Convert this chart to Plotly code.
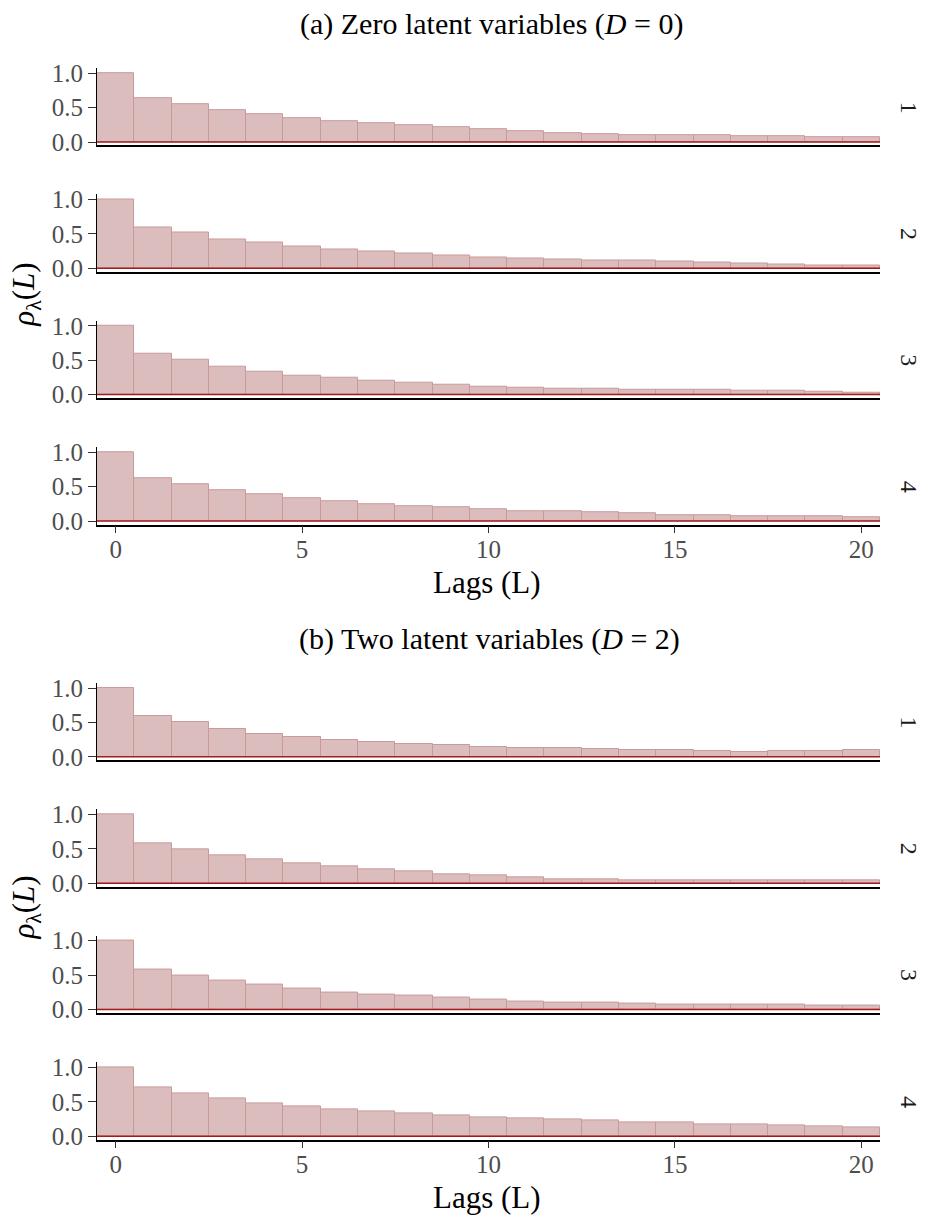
import plotly.graph_objects as go

lags = list(range(21))
# (a) Zero latent variables, facets 1..4
a1 = [1.0, 0.643, 0.552, 0.462, 0.405, 0.348, 0.31, 0.267, 0.248, 0.219, 0.19, 0.162, 0.133, 0.119, 0.105, 0.1, 0.095, 0.09, 0.081, 0.076, 0.076]
a2 = [1.0, 0.596, 0.524, 0.423, 0.375, 0.317, 0.269, 0.245, 0.212, 0.188, 0.163, 0.139, 0.135, 0.115, 0.11, 0.096, 0.091, 0.077, 0.063, 0.048, 0.038]
a3 = [1.0, 0.6, 0.505, 0.405, 0.329, 0.281, 0.243, 0.2, 0.171, 0.143, 0.114, 0.105, 0.086, 0.081, 0.071, 0.071, 0.071, 0.052, 0.052, 0.043, 0.033]
a4 = [1.0, 0.619, 0.533, 0.448, 0.39, 0.333, 0.29, 0.248, 0.214, 0.2, 0.176, 0.148, 0.143, 0.133, 0.114, 0.09, 0.081, 0.071, 0.071, 0.071, 0.062]
# (b) Two latent variables, facets 1..4
b1 = [1.0, 0.598, 0.512, 0.411, 0.335, 0.282, 0.239, 0.211, 0.182, 0.167, 0.139, 0.134, 0.124, 0.12, 0.105, 0.096, 0.081, 0.077, 0.086, 0.091, 0.096]
b2 = [1.0, 0.582, 0.486, 0.409, 0.351, 0.293, 0.24, 0.197, 0.168, 0.125, 0.111, 0.087, 0.058, 0.053, 0.038, 0.034, 0.034, 0.038, 0.038, 0.043, 0.038]
b3 = [1.0, 0.577, 0.49, 0.418, 0.356, 0.303, 0.245, 0.216, 0.202, 0.173, 0.139, 0.115, 0.101, 0.101, 0.087, 0.072, 0.072, 0.077, 0.072, 0.0625, 0.053]
b4 = [1.0, 0.716, 0.63, 0.553, 0.481, 0.428, 0.394, 0.365, 0.327, 0.298, 0.269, 0.264, 0.25, 0.226, 0.207, 0.197, 0.178, 0.168, 0.154, 0.149, 0.135]

series = [a1, a2, a3, a4, b1, b2, b3, b4]
facet_labels = ["1", "2", "3", "4", "1", "2", "3", "4"]
x_ticks = [0, 5, 10, 15, 20]
y_ticks = [0.0, 0.5, 1.0]
y_ticktext = ["0.0", "0.5", "1.0"]

W, H = 925, 1228
FONT = "Liberation Serif"
zero_px = [136, 264.2, 392.3, 520.7, 760, 888.2, 1016.3, 1145]
px_per_unit = 69.7
y_lo, y_hi = -0.05, 1.075
x_left, x_right = 97, 880

fig = go.Figure()
layout = dict(
    width=W, height=H,
    margin=dict(l=0, r=0, t=0, b=0),
    paper_bgcolor="white", plot_bgcolor="white",
    showlegend=False,
    font=dict(family=FONT, color="#4d4d4d"),
    bargap=0,
)
shapes = []
annotations = []

for i, vals in enumerate(series):
    k = i + 1
    xa = "x" if k == 1 else f"x{k}"
    ya = "y" if k == 1 else f"y{k}"
    fig.add_trace(go.Bar(
        x=lags, y=vals, xaxis=xa, yaxis=ya, width=1,
        marker=dict(color="#dcbdbe", line=dict(color="#c99a9b", width=1)),
    ))
    Z = zero_px[i]
    top = Z - y_hi * px_per_unit
    bot = Z - y_lo * px_per_unit
    last = (k in (4, 8))
    layout["xaxis" if k == 1 else f"xaxis{k}"] = dict(
        domain=[x_left / W, x_right / W], anchor=ya, range=[-0.5, 20.5],
        showgrid=False, zeroline=False, showline=True, linecolor="black", linewidth=1.6,
        tickvals=x_ticks, ticks="outside" if last else "", ticklen=7, tickcolor="#333",
        ticklabelstandoff=-5,
        showticklabels=last, tickfont=dict(size=25, color="#4d4d4d", family=FONT),
    )
    layout["yaxis" if k == 1 else f"yaxis{k}"] = dict(
        domain=[1 - bot / H, 1 - top / H], anchor=xa, range=[y_lo, y_hi],
        showgrid=False, zeroline=False, showline=True, linecolor="black", linewidth=1.2,
        tickvals=y_ticks, ticktext=y_ticktext, ticks="outside", ticklen=8, tickcolor="#333",
        tickfont=dict(size=25, color="#4d4d4d", family=FONT),
    )
    shapes.append(dict(type="line", xref=f"{xa} domain", x0=0, x1=1, yref=ya, y0=0, y1=0,
                       line=dict(color="#a31c1c", width=1.5), layer="above"))
    annotations.append(dict(text=facet_labels[i], x=909 / W, y=1 - (Z - 0.5 * px_per_unit) / H,
                            xref="paper", yref="paper", showarrow=False, textangle=90,
                            xanchor="center", yanchor="middle",
                            font=dict(size=24, color="#1a1a1a", family=FONT)))

# Titles
annotations.append(dict(text="(a) Zero latent variables (<i>D</i> = 0)", x=491 / W, y=1 - 16 / H,
                        xref="paper", yref="paper", showarrow=False, xanchor="center", yanchor="middle",
                        font=dict(size=30, color="black", family=FONT)))
annotations.append(dict(text="(b) Two latent variables (<i>D</i> = 2)", x=489 / W, y=1 - 640 / H,
                        xref="paper", yref="paper", showarrow=False, xanchor="center", yanchor="middle",
                        font=dict(size=30, color="black", family=FONT)))
for yy in (583, 1207):
    annotations.append(dict(text="Lags (L)", x=487 / W, y=1 - yy / H, xref="paper", yref="paper",
                            showarrow=False, xanchor="center", yanchor="middle",
                            font=dict(size=31, color="black", family=FONT)))
for yy in (291, 913):
    annotations.append(dict(text="<i>ρ</i><sub>λ</sub>(<i>L</i>)", x=26 / W, y=1 - yy / H,
                            xref="paper", yref="paper", showarrow=False, textangle=-90,
                            xanchor="center", yanchor="middle",
                            font=dict(size=31, color="black", family=FONT)))

layout["shapes"] = shapes
layout["annotations"] = annotations
fig.update_layout(**layout)
fig.write_html("out.html")
